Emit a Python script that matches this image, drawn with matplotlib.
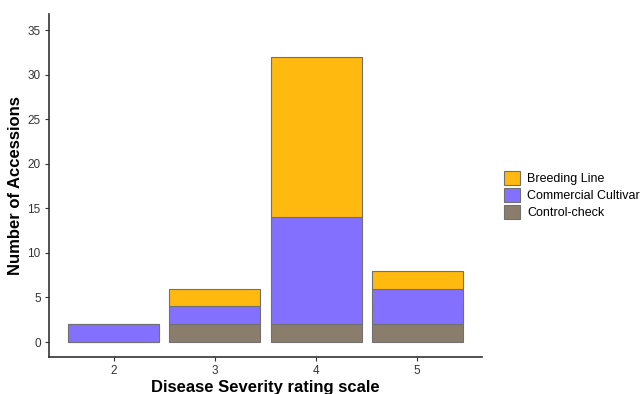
import matplotlib
matplotlib.use("Agg")
from matplotlib import pyplot as plt
import numpy as np

severity = [2, 3, 4, 5]
control = [0, 2, 2, 2]
commercial = [2, 2, 12, 4]
breeding = [0, 2, 18, 2]

plt.rcParams['font.family'] = ['Liberation Sans', 'DejaVu Sans']

fig = plt.figure(figsize=(6.43, 3.94), dpi=100)
ax = fig.add_axes([0.0762, 0.0939, 0.6734, 0.8706])

edge = '#707070'
bottom = np.zeros(len(severity))
series = [('Control-check', control, '#8B7D6B'),
          ('Commercial Cultivar', commercial, '#8470FF'),
          ('Breeding Line', breeding, '#FFB90F')]
handles = {}
for name, vals, col in series:
    vals = np.array(vals, dtype=float)
    b = ax.bar(severity, vals, bottom=bottom, width=0.9, color=col,
               edgecolor=edge, linewidth=0.8, label=name)
    handles[name] = b
    bottom += vals

ax.set_xlim(1.36, 5.64)
ax.set_ylim(-1.68, 36.8)
ax.set_xticks(severity)
ax.set_yticks(range(0, 36, 5))
ax.tick_params(colors='#333333', labelsize=8.5, length=3, width=0.8, pad=3)

for s in ['top', 'right']:
    ax.spines[s].set_visible(False)
for s in ['left', 'bottom']:
    ax.spines[s].set_linewidth(1.2)
    ax.spines[s].set_color('#333333')

ax.set_xlabel('Disease Severity rating scale', fontsize=12, fontweight='bold', labelpad=2)
ax.set_ylabel('Number of Accessions', fontsize=12, fontweight='bold', labelpad=3)

order = ['Breeding Line', 'Commercial Cultivar', 'Control-check']
fig.legend([handles[n] for n in order], order, loc='center left',
           bbox_to_anchor=(0.776, 0.505), frameon=False, fontsize=9,
           handlelength=1.25, handleheight=1.4, labelspacing=0.2,
           handletextpad=0.6, borderaxespad=0)

fig.savefig('out.png', dpi=100)
